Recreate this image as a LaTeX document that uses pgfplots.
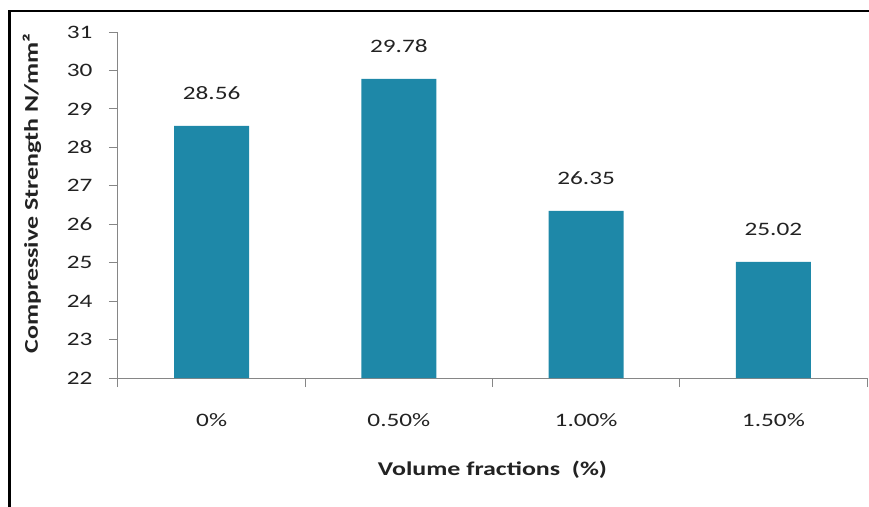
\documentclass[border=0pt]{standalone}
\usepackage{fontspec}
\setmainfont{Carlito}[FakeStretch=1.33]
\usepackage{pgfplots}
\pgfplotsset{compat=1.18}
\definecolor{barteal}{HTML}{1E88A8}
\definecolor{axgray}{HTML}{868686}
\definecolor{txt}{HTML}{222222}
\begin{document}
\fontsize{19bp}{22bp}\selectfont
\begin{tikzpicture}
\path[use as bounding box] (-118bp,-129bp) rectangle (751bp,378bp);
\begin{axis}[
    scale only axis,
    width=749bp, height=346bp,
    ymin=22, ymax=31,
    ytick={22,...,31},
    xmin=-0.5, xmax=3.5,
    xtick={0,1,2,3},
    xticklabels={0\%,0.50\%,1.00\%,1.50\%},
    minor xtick={-0.5,0.5,1.5,2.5,3.5},
    axis lines=left,
    axis line style={-, axgray, line width=1bp},
    tick style={axgray, line width=1bp},
    major x tick style={draw=none},
    tick align=outside,
    major tick length=9bp, minor tick length=9bp,
    xticklabel shift=20bp,
    yticklabel shift=10bp,
    /pgf/number format/assume math mode=true,
    ticklabel style={font=\fontsize{19bp}{22bp}\selectfont, text=txt},
    xlabel={\bfseries Volume fractions\ \ (\%)},
    ylabel={\bfseries Compressive Strength N/mm²},
    label style={font=\fontsize{19.5bp}{22bp}\selectfont, text=txt},
    xlabel style={at={(axis description cs:0.5,-0.266)}, anchor=center},
    ylabel style={at={(axis description cs:-0.1148,0.533)}, anchor=center},
    ybar, bar width=0.4,
    nodes near coords,
    point meta=explicit symbolic,
    nodes near coords style={anchor=south, inner sep=0pt, yshift=26bp,
        font=\fontsize{19bp}{22bp}\selectfont, text=txt},
]
\addplot[fill=barteal, draw=none] coordinates {
    (0,28.56) [28.56]
    (1,29.78) [29.78]
    (2,26.35) [26.35]
    (3,25.02) [25.02]
};
\end{axis}
\draw[line width=2.5bp] (-108.5bp,-129bp) -- (-108.5bp,367bp) -- (751bp,367bp);
\end{tikzpicture}
\end{document}
